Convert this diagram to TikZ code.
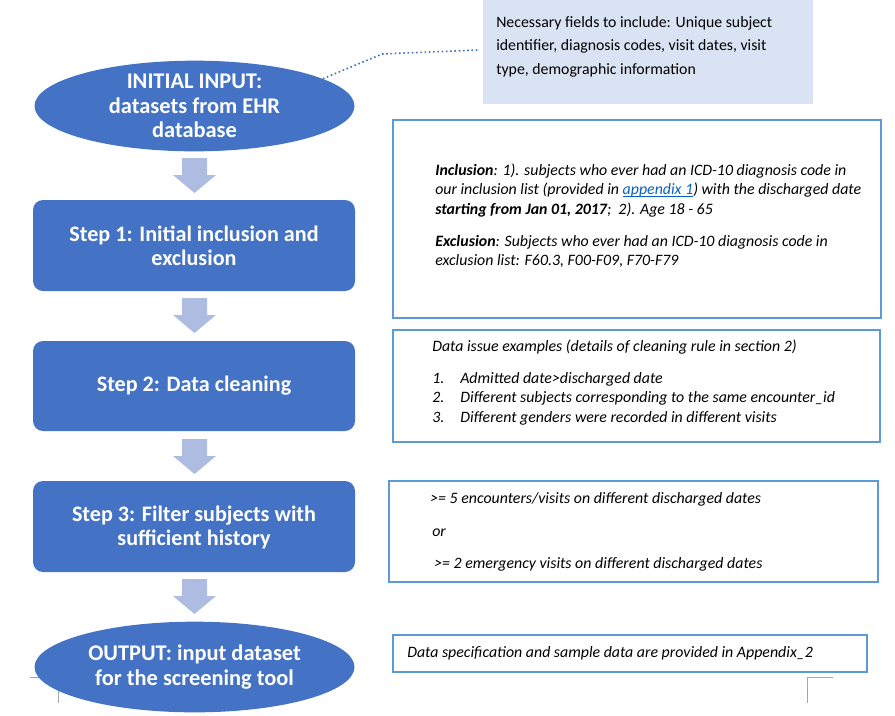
\documentclass[tikz,border=0pt]{standalone}
\usepackage{fontspec}
\setmainfont{Carlito}
\usetikzlibrary{shapes.geometric}
\definecolor{stepblue}{HTML}{4472C4}
\definecolor{arrowblue}{HTML}{AFBCE2}
\definecolor{notefill}{HTML}{DAE3F3}
\definecolor{boxline}{HTML}{5B9BD5}
\definecolor{linkblue}{HTML}{0563C1}
\definecolor{markgray}{HTML}{A6A6A6}
\newlength\myulen
\newcommand\myuline[1]{\settowidth{\myulen}{#1}\rlap{\rule[-1.6pt]{\myulen}{0.6pt}}#1}
\begin{document}
\begin{tikzpicture}[x=0.75pt,y=-0.75pt,
  stepbox/.style={fill=stepblue,draw=none,rounded corners=7.5pt},
  ovalbox/.style={ellipse,fill=stepblue,draw=none,minimum width=240pt,minimum height=68pt,inner sep=0pt,
     text=white,font=\fontsize{16.8}{18.2}\selectfont\bfseries,align=center},
  steptext/.style={text=white,font=\fontsize{16.6}{18}\selectfont\bfseries,align=center},
  infobox/.style={draw=boxline,line width=1.5pt,fill=white},
  itext/.style={anchor=base west,inner sep=0pt,font=\fontsize{11.9}{14}\selectfont\itshape},
  ntext/.style={anchor=base west,inner sep=0pt,font=\fontsize{11.85}{14}\selectfont},
  downarrow/.style={fill=arrowblue,draw=none},
  marks/.style={draw=markgray,line width=0.75pt}]
\useasboundingbox (0,0) rectangle (895,715);

% corner marks
\draw[marks] (30,677) -- (58,677) -- (58,703);
\draw[marks] (833,677) -- (807,677) -- (807,703);

% note box
\fill[notefill] (483,0) rectangle (813,104);
\coordinate (noteend) at (478,50);
\node[ntext] (n1) at (496,27) {Necessary fields to include: Unique subject};
\node[ntext] (n2) at (496,50.5) {identifier, diagnosis codes, visit dates, visit};
\node[ntext] (n3) at (496,74) {type, demographic information};

% main flow
\node[ovalbox] (input) at (194.5,106) {INITIAL INPUT:\\datasets from EHR\\database};
\fill[stepbox] (33,200) rectangle (355,291);
\node[steptext] (s1) at (194,245.5) {Step 1: Initial inclusion and\\exclusion};
\fill[stepbox] (33,341) rectangle (355,431);
\node[steptext] (s2) at (194,386) {Step 2: Data cleaning};
\fill[stepbox] (33,481) rectangle (355,572);
\node[steptext] (s3) at (194,527) {Step 3: Filter subjects with\\sufficient history};
\node[ovalbox] (output) at (194.5,667) {OUTPUT: input dataset\\for the screening tool};

% block arrows
\foreach \t in {158,298,439,579}{
  \fill[downarrow] (182,\t) -- (207,\t) -- (207,\t+17) -- (216,\t+17) -- (194.5,\t+35)
     -- (173,\t+17) -- (182,\t+17) -- cycle;
}

% dotted connector
\draw[stepblue,line width=1.2pt,dotted] (input.12) -- (382,54) -- (noteend);

% inclusion box
\draw[infobox] (393,119.5) rectangle (881,318);
\node[itext] (i1) at (435,175) {\textbf{Inclusion}: 1). subjects who ever had an ICD-10 diagnosis code in};
\node[itext] (i2) at (435,194.5) {our inclusion list (provided in {\color{linkblue}\myuline{appendix 1}}) with the discharged date};
\node[itext] (i3) at (435,214) {\textbf{starting from Jan 01, 2017};\ \ 2). Age 18 - 65};
\node[itext] (i4) at (435,246) {\textbf{Exclusion}: Subjects who ever had an ICD-10 diagnosis code in};
\node[itext] (i5) at (435,265) {exclusion list: F60.3, F00-F09, F70-F79};

% data cleaning box
\draw[infobox] (393,330) rectangle (880,441.5);
\node[itext] (d0) at (432,351) {Data issue examples (details of cleaning rule in section 2)};
\node[itext] (d1n) at (432,383) {1.};
\node[itext] (d1) at (460,383) {Admitted date>discharged date};
\node[itext] (d2n) at (432,402.5) {2.};
\node[itext] (d2) at (460,402.5) {Different subjects corresponding to the same encounter\_id};
\node[itext] (d3n) at (432,422) {3.};
\node[itext] (d3) at (460,422) {Different genders were recorded in different visits};

% step 3 box
\draw[infobox] (389,480.5) rectangle (878,582);
\node[itext] (f1) at (430,503) {>= 5 encounters/visits on different discharged dates};
\node[itext] (f2) at (432,536) {or};
\node[itext] (f3) at (434,568) {>= 2 emergency visits on different discharged dates};

% output box
\draw[infobox] (393,635) rectangle (867,671.5);
\node[itext] (o1) at (407,657) {Data specification and sample data are provided in Appendix\_2};
\end{tikzpicture}
\end{document}
